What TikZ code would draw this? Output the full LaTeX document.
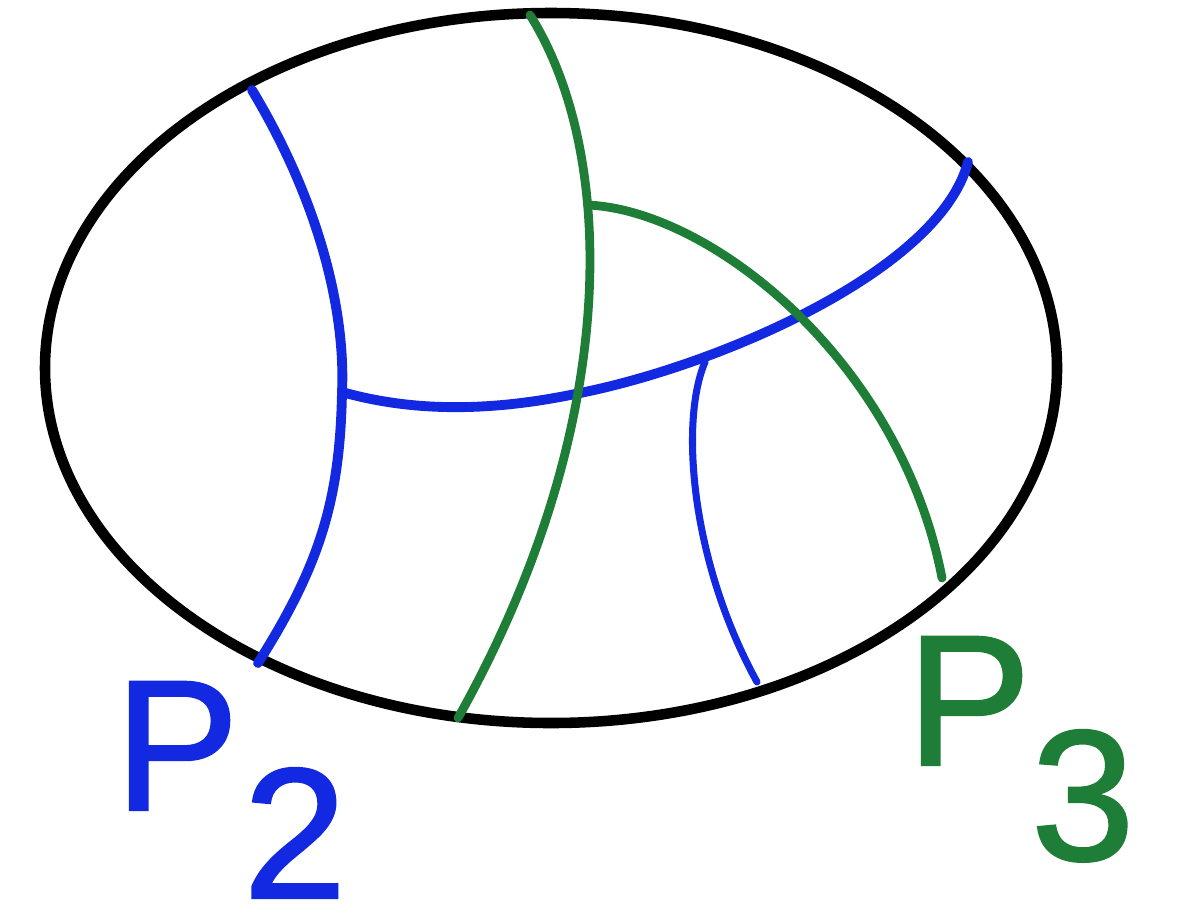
\documentclass[tikz,border=0pt]{standalone}
\usepackage{fontspec}
\setmainfont{Liberation Sans}
\newfontfamily\lblfont{Liberation Sans}[FakeBold=1.2]
\usetikzlibrary{calc}
\definecolor{ptwo}{RGB}{18,40,225}
\definecolor{pthree}{RGB}{30,125,55}
\tikzset{
  rimln/.style={line width=3pt, black},
  blueln/.style={line width=2.8pt, ptwo, line cap=round},
  thinblue/.style={line width=2pt, ptwo, line cap=round},
  greenln/.style={line width=2.5pt, pthree, line cap=round},
  plabel/.style={inner sep=0pt, anchor=base west, font=\lblfont\fontsize{53}{60}\selectfont},
}
\begin{document}
\begin{tikzpicture}[x=0.01cm, y=-0.01cm]
  \useasboundingbox (0,0) rectangle (1180,918);
  % junctions
  \coordinate (jl) at (342,392);
  \coordinate (jm) at (705,362);
  \draw[rimln] (551,368) ellipse [x radius=506, y radius=355];
  % blue arcs
  \draw[blueln] (252,90) .. controls (330,220) and (345,330) .. (jl)
    .. controls (340,500) and (320,565) .. (258,663);
  \draw[blueln] (jl) .. controls (420,414) and (500,410) .. (580,393)
    .. controls (720,365) and (940,270) .. (968,162);
  \draw[thinblue] (jm) .. controls (680,420) and (690,560) .. (757,682);
  % green arcs
  \draw[greenln] (530,15) .. controls (615,150) and (625,420) .. coordinate[pos=0.355] (jg) (458,718);
  \draw[greenln] (jg) .. controls (710,210) and (900,360) .. (942,578);
  % labels
  \node[plabel, ptwo] (ptwolbl) at (114,810) {P\kern0.04cm\raisebox{-0.88cm}{2}};
  \node[plabel, pthree] (pthreelbl) at (906,765) {P\raisebox{-0.95cm}{3}};
\end{tikzpicture}
\end{document}
